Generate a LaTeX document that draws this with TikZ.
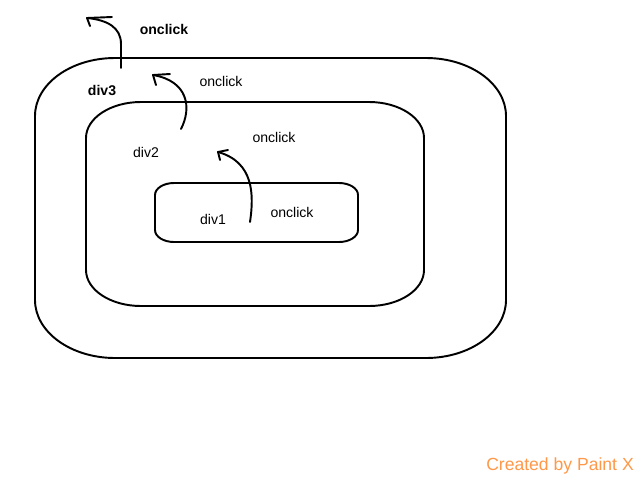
\documentclass[tikz,border=0pt]{standalone}
\usepackage{fontspec}
\setmainfont{Liberation Sans}
\usepackage{tikz}
\definecolor{paintorange}{RGB}{255,152,72}
\tikzset{
	box/.style={line width=1.1pt},
	hand/.style={line width=1.1pt, line cap=round, line join=round},
	lbl/.style={font=\fontsize{8}{10}\selectfont, inner sep=0pt},
}
% oval box: lower left x,y, upper right x,y, corner radii rx,ry
\newcommand{\divbox}[6]{%
	\draw [box] (#1+#5,#2) -- (#3-#5,#2)
		arc[start angle=-90, end angle=0, x radius=#5, y radius=#6] -- (#3,#4-#6)
		arc[start angle=0, end angle=90, x radius=#5, y radius=#6] -- (#1+#5,#4)
		arc[start angle=90, end angle=180, x radius=#5, y radius=#6] -- (#1,#2+#6)
		arc[start angle=180, end angle=270, x radius=#5, y radius=#6] -- cycle;}

\begin{document}
\begin{tikzpicture}
	\useasboundingbox (0,0) rectangle (12.8,9.6);
	% the three nested divs
	\divbox{0.7}{2.44}{10.12}{8.44}{1.6}{1.16}
	\divbox{1.72}{3.48}{8.48}{7.56}{1.1}{0.72}
	\divbox{3.1}{4.76}{7.16}{5.94}{0.38}{0.24}
	\node [lbl, font=\fontsize{8}{10}\selectfont\bfseries] (div3) at (2.04,7.8) {div3};
	\node [lbl] (div2) at (2.92,6.56) {div2};
	\node [lbl] (div1) at (4.26,5.22) {div1};
	\node [lbl, font=\fontsize{8}{10}\selectfont\bfseries] (click3) at (3.28,9.02) {onclick};
	\node [lbl] (click2) at (4.42,7.98) {onclick};
	\node [lbl] (click1b) at (5.48,6.86) {onclick};
	\node [lbl] (click1) at (5.84,5.36) {onclick};
	
	% bubbling arrows
	\coordinate (from1) at (5.0,5.16);
	\coordinate (tip1) at (4.36,6.56);
	\coordinate (from2) at (3.62,7.02);
	\coordinate (tip2) at (3.06,8.1);
	\coordinate (from3) at (2.42,8.24);
	\coordinate (tip3) at (1.74,9.24);
	\draw [hand] (from1) .. controls (5.08,5.7) and (5.08,6.36) .. (tip1);
	\draw [hand] (tip1) ++(0.2,0.04) -- (tip1) -- ++(0.04,-0.16);
	\draw [hand] (from2) .. controls (3.84,7.45) and (3.76,7.98) .. (tip2);
	\draw [hand] (tip2) ++(0.34,0.02) -- (tip2) -- ++(0.06,-0.2);
	\draw [hand] (from3) -- (2.42,8.72) .. controls (2.42,9.05) and (2.15,9.2) .. (tip3);
	\draw [hand] (tip3) ++(0.5,0.02) -- (tip3) -- ++(0.06,-0.16);
	
	\node [text=paintorange, font=\fontsize{10}{12}\selectfont, inner sep=0pt] (credit) at (11.2,0.28) {Created by Paint X};
\end{tikzpicture}
\end{document}
